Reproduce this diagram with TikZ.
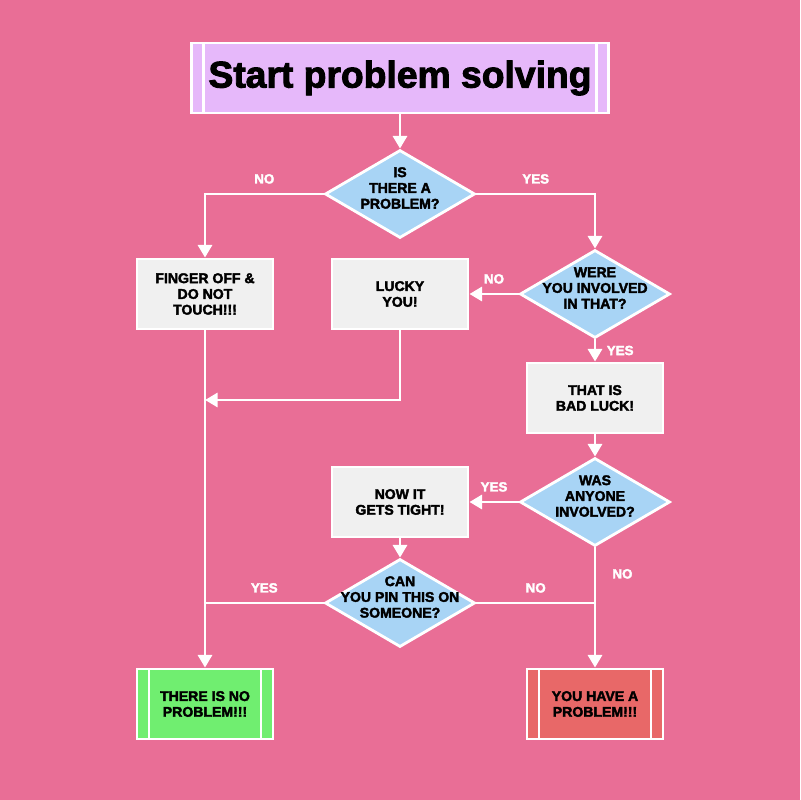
\documentclass[tikz,border=0pt]{standalone}
\usepackage{fontspec}
\setmainfont{Liberation Sans}[BoldFeatures={FakeBold=2.5}]
\usepackage{xcolor}
\usepackage{tikz}
\usetikzlibrary{shapes.geometric, arrows.meta, positioning}

\definecolor{bgpink}{RGB}{233,110,150}
\definecolor{boxgrey}{RGB}{240,240,240}
\definecolor{decblue}{RGB}{168,212,245}
\definecolor{titlelav}{RGB}{230,184,250}
\definecolor{okgreen}{RGB}{112,238,112}
\definecolor{badred}{RGB}{232,104,104}

\newcommand\flowboxfont{\fontsize{10}{11.2}\selectfont\bfseries}
\newcommand\flowtitlefont{\fontsize{26.5}{30}\selectfont\bfseries}
\newcommand\flowansfont{\fontsize{9.5}{10}\selectfont\bfseries}

\begin{document}
\begin{tikzpicture}[
    x=0.025cm, y=-0.025cm,
    box/.style={rectangle, draw=white, line width=2pt, fill=boxgrey, minimum width=3.4cm, minimum height=1.75cm, align=center, font=\flowboxfont},
    bars/.style={path picture={\draw[white, line width=2pt]
        ([xshift=0.3cm]path picture bounding box.north west) -- ([xshift=0.3cm]path picture bounding box.south west)
        ([xshift=-0.3cm]path picture bounding box.north east) -- ([xshift=-0.3cm]path picture bounding box.south east);}},
    term/.style={box, bars},
    decision/.style={diamond, draw=white, line width=2pt, fill=decblue, minimum width=3.75cm, minimum height=2.2cm, inner sep=0pt},
    dtext/.style={align=center, font=\flowboxfont, yshift=0.15cm},
    arrow/.style={-{Triangle[length=9pt, width=10pt]}, white, line width=2.1pt},
    line/.style={white, line width=2.1pt},
    answer/.style={text=white, font=\flowansfont}
]
\fill[bgpink] (0,0) rectangle (800,800);

\node[box, bars, fill=titlelav, minimum width=10.425cm, font=\flowtitlefont] (start) at (400,78) {Start problem solving};
\node[decision, label={[dtext]center:IS\\THERE A\\PROBLEM?}] (q1) at (400,194) {};
\node[box] (finger) at (205,294) {FINGER OFF \&\\DO NOT\\TOUCH!!!};
\node[box] (lucky) at (400,294) {LUCKY\\YOU!};
\node[decision, label={[dtext]center:WERE\\YOU INVOLVED\\IN THAT?}] (q2) at (595,294) {};
\node[box] (badluck) at (595,398) {THAT IS\\BAD LUCK!};
\node[decision, label={[dtext]center:WAS\\ANYONE\\INVOLVED?}] (q3) at (595,502) {};
\node[box] (tight) at (400,502) {NOW IT\\GETS TIGHT!};
\node[decision, label={[dtext]center:CAN\\YOU PIN THIS ON\\SOMEONE?}] (q4) at (400,603) {};
\node[term, fill=okgreen] (good) at (205,704) {THERE IS NO\\PROBLEM!!!};
\node[term, fill=badred] (bad) at (595,704) {YOU HAVE A\\PROBLEM!!!};
\coordinate (merge) at (205,400);

\draw[arrow] (start) -- (q1);
\draw[arrow] (q1) -| (finger) node[answer, pos=0.25, above=3pt] {NO};
\draw[arrow] (q1) -| (q2) node[answer, pos=0.25, above=3pt] {YES};
\draw[arrow] (q2) -- (lucky) node[answer, midway, above=3pt] {NO};
\draw[arrow] (q2) -- (badluck) node[answer, midway, right=4pt] {YES};
\draw[arrow] (lucky) |- (merge);
\draw[arrow] (finger) -- (good);
\draw[arrow] (badluck) -- (q3);
\draw[arrow] (q3) -- (tight) node[answer, midway, above=3pt] {YES};
\draw[arrow] (tight) -- (q4);
\draw[arrow] (q3) -- (bad) node[answer, pos=0.22, right=8pt] {NO};
\draw[line] (q4) -- (q4 -| good) node[answer, midway, above=3pt] {YES};
\draw[line] (q4) -- (q4 -| bad) node[answer, midway, above=3pt] {NO};
\end{tikzpicture}
\end{document}
